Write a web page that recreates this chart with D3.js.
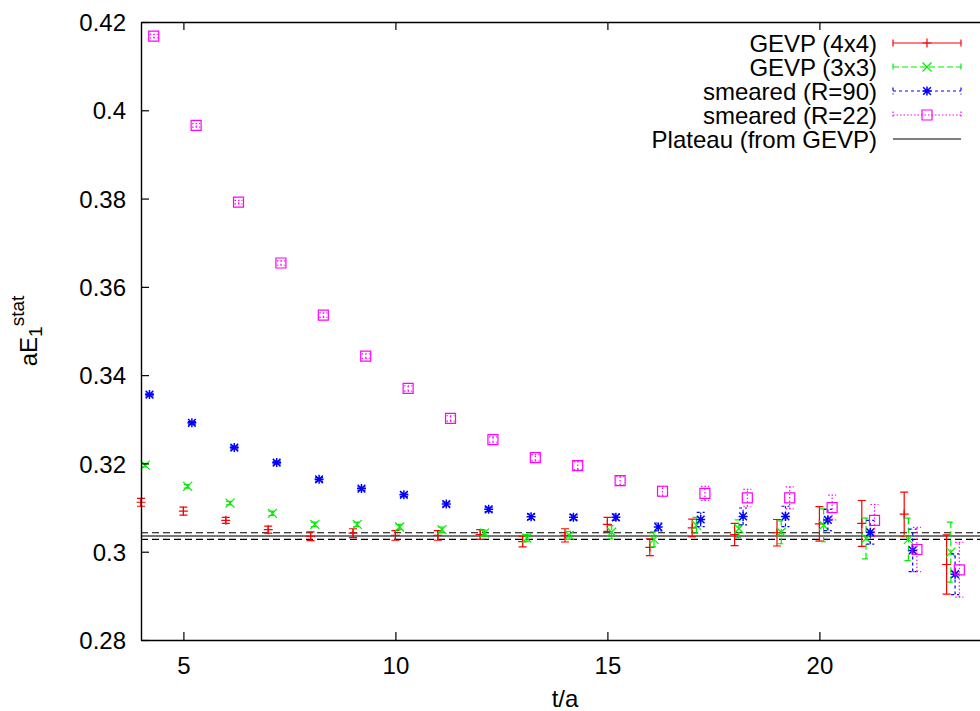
<!DOCTYPE html>
<html>
<head>
<meta charset="utf-8">
<script src="https://cdn.jsdelivr.net/npm/d3@7"></script>
<style>
  body { margin: 0; background: #fff; }
  text { font-family: "Liberation Sans", Arial, Helvetica, sans-serif; fill: #000; }
</style>
</head>
<body>
<svg class="main"></svg>
<script>
// time slices t/a
let tValues = [4, 5, 6, 7, 8, 9, 10, 11, 12, 13, 14, 15, 16, 17, 18, 19, 20, 21, 22, 23];

let gevp4Values = [0.3112, 0.3092, 0.3071, 0.3050, 0.3035, 0.3042, 0.3037, 0.3037, 0.3039, 0.3023,
                   0.3037, 0.3062, 0.3010, 0.3054, 0.3039, 0.3043, 0.3063, 0.3064, 0.3085, 0.2971];
let gevp4Errors = [0.0009, 0.0009, 0.0007, 0.0008, 0.0010, 0.0010, 0.0011, 0.0011, 0.0011, 0.0012,
                   0.0015, 0.0016, 0.0019, 0.0020, 0.0025, 0.0030, 0.0039, 0.0052, 0.0050, 0.0067];

let gevp3Values = [0.3196, 0.3148, 0.3110, 0.3087, 0.3062, 0.3062, 0.3056, 0.3050, 0.3042, 0.3031,
                   0.3037, 0.3044, 0.3028, 0.3060, 0.3052, 0.3044, 0.3060, 0.3030, 0.3028, 0.2999];
let gevp3Errors = [0.0004, 0.0004, 0.0004, 0.0005, 0.0005, 0.0005, 0.0006, 0.0006, 0.0007, 0.0008,
                   0.0009, 0.0015, 0.0017, 0.0018, 0.0020, 0.0026, 0.0037, 0.0046, 0.0048, 0.0068];

let r90Values = [0.3356, 0.3292, 0.3236, 0.3202, 0.3164, 0.3143, 0.3129, 0.3108, 0.3096, 0.3079,
                 0.3078, 0.3078, 0.3056, 0.3073, 0.3080, 0.3080, 0.3072, 0.3044, 0.3003, 0.2949];
let r90Errors = [0.0003, 0.0003, 0.0003, 0.0003, 0.0004, 0.0004, 0.0004, 0.0005, 0.0005, 0.0006,
                 0.0006, 0.0007, 0.0009, 0.0016, 0.0019, 0.0023, 0.0024, 0.0027, 0.0048, 0.0046];

let r22Values = [0.4168, 0.3966, 0.3792, 0.3654, 0.3536, 0.3443, 0.3370, 0.3302, 0.3254, 0.3213,
                 0.3195, 0.3161, 0.3137, 0.3132, 0.3122, 0.3122, 0.3100, 0.3071, 0.3005, 0.2959];
let r22Errors = [0.0004, 0.0004, 0.0004, 0.0005, 0.0005, 0.0005, 0.0006, 0.0006, 0.0006, 0.0007,
                 0.0009, 0.0010, 0.0011, 0.0016, 0.0019, 0.0025, 0.0028, 0.0036, 0.0050, 0.0062];

// plateau fitted from GEVP: central value and half width
let plateauValue = 0.30355;
let plateauError = 0.00075;

let seriesNames = ["GEVP (4x4)", "GEVP (3x3)", "smeared (R=90)", "smeared (R=22)"];
let seriesShift = [0, 0.1, 0.2, 0.3];

let xTicks = [5, 10, 15, 20];
let yTicks = [0.28, 0.30, 0.32, 0.34, 0.36, 0.38, 0.40, 0.42];
let yTickLabels = ["0.28", "0.3", "0.32", "0.34", "0.36", "0.38", "0.4", "0.42"];

let w = 980, h = 711;
let padLeft = 141, padRight = 989, padTop = 22, padBottom = 640;
let fontSize = 24;

let svg = d3.select('.main')
  .attr('width', w)
  .attr('height', h)
  .style('display', 'block')
  .style('background-color', '#fff');

let x = d3.scaleLinear().domain([4, 24]).range([padLeft, padRight]);
let y = d3.scaleLinear().domain([0.28, 0.42]).range([padBottom, padTop]);

let styles = [
  { color: '#ff0000', dash: null,    mark: 'plus' },
  { color: '#00ee00', dash: '6,3',   mark: 'cross' },
  { color: '#0000ff', dash: '3,3',   mark: 'star' },
  { color: '#ff00ff', dash: '1.5,2', mark: 'square' }
];

let seriesValues = [gevp4Values, gevp3Values, r90Values, r22Values];
let seriesErrors = [gevp4Errors, gevp3Errors, r90Errors, r22Errors];

function markPath(type, cx, cy) {
  let s = 4.5;
  let p = d3.path();
  if (type === 'plus' || type === 'star') {
    p.moveTo(cx - s, cy); p.lineTo(cx + s, cy);
    p.moveTo(cx, cy - s); p.lineTo(cx, cy + s);
  }
  if (type === 'cross' || type === 'star') {
    let c = type === 'star' ? s * 0.85 : s;
    p.moveTo(cx - c, cy - c); p.lineTo(cx + c, cy + c);
    p.moveTo(cx - c, cy + c); p.lineTo(cx + c, cy - c);
  }
  if (type === 'square') {
    p.rect(cx - 5, cy - 5, 10, 10);
  }
  return p.toString();
}

// plateau band
let plateau = svg.append('g').attr('class', 'plateau');
plateau.append('line')
  .attr('x1', x(4)).attr('x2', x(24))
  .attr('y1', y(plateauValue)).attr('y2', y(plateauValue))
  .attr('stroke', '#777').attr('stroke-width', 2);
[plateauValue - plateauError, plateauValue + plateauError].forEach(v => {
  plateau.append('line')
    .attr('x1', x(4)).attr('x2', x(24))
    .attr('y1', y(v)).attr('y2', y(v))
    .attr('stroke', '#000').attr('stroke-width', 1.2)
    .attr('stroke-dasharray', '7,4');
});

// data series with error bars
seriesValues.forEach((vals, k) => {
  let st = styles[k];
  let pts = tValues.map((t, i) => ({ t: t + seriesShift[k], v: vals[i], e: seriesErrors[k][i] }));
  let g = svg.append('g').attr('class', 'series-' + k)
    .attr('stroke', st.color).attr('fill', 'none').attr('stroke-width', 1.2);

  g.selectAll('path.bar')
    .data(pts)
    .enter()
    .append('path')
    .attr('class', 'bar')
    .attr('stroke-dasharray', st.dash)
    .attr('d', d => {
      let px = x(d.t), y1 = y(d.v - d.e), y2 = y(d.v + d.e);
      return `M${px},${y1}L${px},${y2}M${px - 4},${y1}L${px + 4},${y1}M${px - 4},${y2}L${px + 4},${y2}`;
    });

  g.selectAll('path.mark')
    .data(pts)
    .enter()
    .append('path')
    .attr('class', 'mark')
    .attr('stroke-width', k === 2 ? 1.5 : 1.2)
    .attr('d', d => markPath(st.mark, x(d.t), y(d.v)));
});

// axes, ticks pointing inwards like gnuplot
let xAxis = svg.append('g')
  .attr('transform', `translate(0,${padBottom})`)
  .call(d3.axisBottom(x).tickValues(xTicks).tickSize(-8).tickSizeOuter(0).tickPadding(17));
let xTop = svg.append('g')
  .attr('transform', `translate(0,${padTop})`)
  .call(d3.axisTop(x).tickValues(xTicks).tickSize(-8).tickSizeOuter(0).tickFormat(''));
let yAxis = svg.append('g')
  .attr('transform', `translate(${padLeft},0)`)
  .call(d3.axisLeft(y).tickValues(yTicks).tickSize(-8).tickSizeOuter(0).tickPadding(15)
    .tickFormat((d, i) => yTickLabels[i]));
let yRight = svg.append('g')
  .attr('transform', `translate(${padRight},0)`)
  .call(d3.axisRight(y).tickValues(yTicks).tickSize(-8).tickSizeOuter(0).tickFormat(''));

svg.selectAll('.domain').attr('stroke', '#000').attr('stroke-width', 1.4);
svg.selectAll('.tick line').attr('stroke', '#000').attr('stroke-width', 1.2);
svg.selectAll('.tick text')
  .style('font-family', '"Liberation Sans", Arial, sans-serif')
  .style('font-size', fontSize + 'px')
  .attr('fill', '#000');
yAxis.selectAll('.tick text').attr('dy', '0.36em');

// axis labels
svg.append('text')
  .attr('x', (padLeft + padRight) / 2)
  .attr('y', 707)
  .attr('text-anchor', 'middle')
  .style('font-size', fontSize + 'px')
  .text('t/a');

let yl = svg.append('text')
  .attr('transform', 'translate(37,331) rotate(-90)')
  .attr('text-anchor', 'middle')
  .style('font-size', fontSize + 'px');
yl.append('tspan').text('aE');
yl.append('tspan').attr('dy', 5).style('font-size', '19px').text('1');
yl.append('tspan').attr('dy', -18).style('font-size', '19px').text('stat');

// key
let key = svg.append('g').attr('class', 'key');
let keyNames = seriesNames.concat(['Plateau (from GEVP)']);
keyNames.forEach((name, i) => {
  let cy = 43 + 24 * i;
  key.append('text')
    .attr('x', 877).attr('y', cy + 8.5)
    .attr('text-anchor', 'end')
    .style('font-size', fontSize + 'px')
    .text(name);
  if (i < styles.length) {
    let st = styles[i];
    key.append('path')
      .attr('d', `M893,${cy}L961,${cy}M893,${cy - 3.5}L893,${cy + 3.5}M961,${cy - 3.5}L961,${cy + 3.5}`)
      .attr('stroke', st.color).attr('stroke-width', 1.2).attr('fill', 'none')
      .attr('stroke-dasharray', st.dash);
    key.append('path')
      .attr('d', markPath(st.mark, 927, cy))
      .attr('stroke', st.color).attr('stroke-width', i === 2 ? 1.5 : 1.2).attr('fill', 'none');
  } else {
    key.append('line')
      .attr('x1', 893).attr('x2', 961).attr('y1', cy).attr('y2', cy)
      .attr('stroke', '#000').attr('stroke-width', 1.2);
  }
});
</script>
</body>
</html>
